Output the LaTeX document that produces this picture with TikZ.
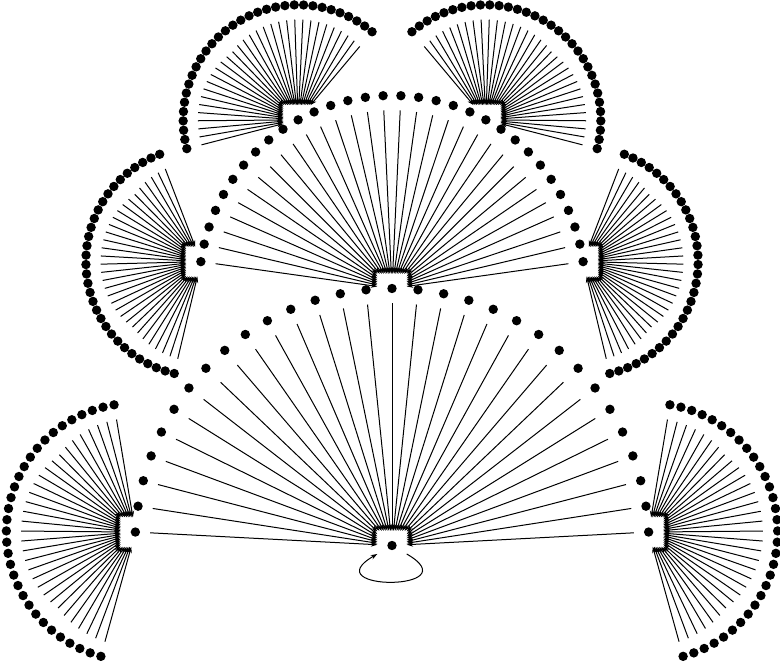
\documentclass[tikz,border=0pt]{standalone}
\usetikzlibrary{arrows.meta,calc}
\tikzset{
  vtx/.style={rectangle,minimum size=29pt,inner sep=0pt,draw=none,
    path picture={\fill[black] (path picture bounding box.center) circle (4.7pt);}},
  edge/.style={line width=1pt,-{Stealth[length=6.5pt,width=4.5pt]}},
}
\newcommand\myfan[6]{%
  \foreach \k in {1,...,#6}{%
    \pgfmathsetmacro\ang{#4+(#5-#4)*(\k-1)/(#6-1)}
    \node[vtx] (#2\k) at ($(#1)+(\ang:#3pt)$) {};
    \draw[edge] (#2\k) -- (#1);
  }}
\begin{document}
\begin{tikzpicture}[x=1pt,y=1pt]
\useasboundingbox (0,0) rectangle (780,667);
\node[vtx] (root) at (392,121.5) {};
\draw[edge] (root.-30) .. controls +(-30:75) and +(210:75) .. (root.210);
\myfan{root}{r}{257}{3}{177}{31}
\myfan{r16}{m}{193}{8}{172}{32}
\myfan{r31}{bl}{129}{99.5}{254.5}{32}
\myfan{r1}{br}{129}{-74.5}{80.5}{32}
\myfan{m32}{ml}{115}{111}{256.6}{32}
\myfan{m1}{mr}{115}{-76.6}{69}{32}
\myfan{m22}{tl}{115}{50}{194.5}{32}
\myfan{m11}{tr}{115}{-14.5}{130}{32}
\end{tikzpicture}
\end{document}
